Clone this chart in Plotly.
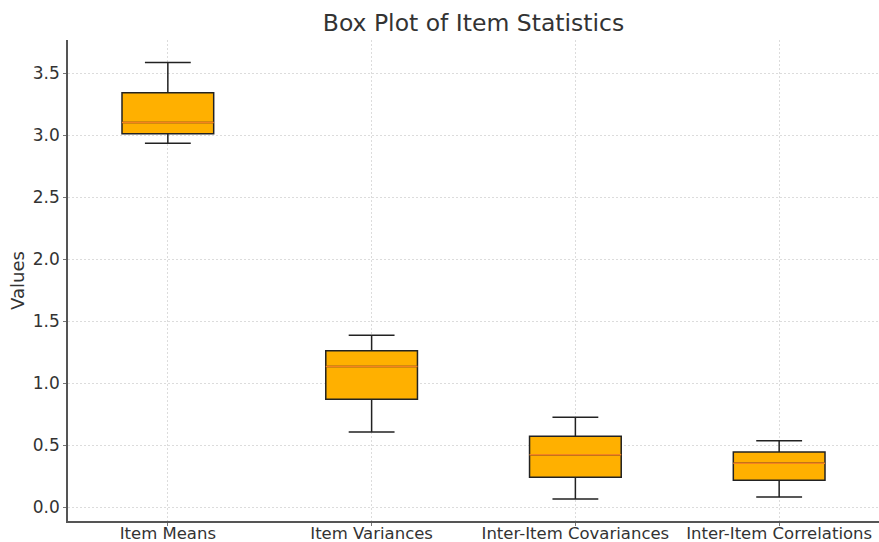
import plotly.graph_objects as go

categories = ["Item Means", "Item Variances", "Inter-Item Covariances", "Inter-Item Correlations"]
lower_whisker = [2.938, 0.607, 0.067, 0.083]
q1 = [3.013, 0.873, 0.242, 0.218]
median = [3.105, 1.137, 0.424, 0.355]
q3 = [3.344, 1.263, 0.573, 0.446]
upper_whisker = [3.589, 1.389, 0.726, 0.537]
y_ticks = [0.0, 0.5, 1.0, 1.5, 2.0, 2.5, 3.0, 3.5]

xpos = list(range(len(categories)))
font = "DejaVu Sans, Liberation Sans, sans-serif"
text_col = "#333333"

fig = go.Figure()
fig.add_trace(go.Box(
    x=xpos, q1=q1, median=median, q3=q3,
    lowerfence=lower_whisker, upperfence=upper_whisker,
    width=0.45, whiskerwidth=0.5,
    fillcolor="#FFB000", line=dict(color="#222222", width=1.5),
    boxpoints=False, showlegend=False, hoverinfo="skip",
))
# median lines in orange, drawn as degenerate boxes at the median
fig.add_trace(go.Box(
    x=xpos, q1=median, median=median, q3=median,
    lowerfence=median, upperfence=median,
    width=0.45, whiskerwidth=0,
    fillcolor="rgba(0,0,0,0)", line=dict(color="#F5821F", width=1.5),
    boxpoints=False, showlegend=False, hoverinfo="skip",
))

fig.update_layout(
    width=879, height=542,
    margin=dict(l=68, r=0, t=40, b=21, autoexpand=False),
    paper_bgcolor="white", plot_bgcolor="white",
    boxmode="overlay",
    title=dict(text="Box Plot of Item Statistics", x=0.5, xref="paper", xanchor="center",
               y=0.973, yref="container", yanchor="top",
               font=dict(family=font, size=23.5, color=text_col)),
    font=dict(family=font, size=17, color=text_col),
)
fig.update_xaxes(
    range=[-0.49, 3.49], tickmode="array", tickvals=xpos, ticktext=categories,
    showline=True, linecolor="#555555", linewidth=1.5,
    ticks="outside", ticklen=3, tickcolor="#777777", ticklabelstandoff=-7,
    showgrid=True, gridcolor="#dcdcdc", griddash="2px,2px", gridwidth=1,
    zeroline=False, tickfont=dict(size=16.5, color=text_col), automargin=False,
)
fig.update_yaxes(
    range=[-0.11, 3.77], tickmode="array", tickvals=y_ticks,
    ticktext=[f"{v:.1f}" for v in y_ticks],
    showline=True, linecolor="#555555", linewidth=1.5,
    ticks="outside", ticklen=3, tickcolor="#777777",
    showgrid=True, gridcolor="#dcdcdc", griddash="2px,2px", gridwidth=1,
    zeroline=False, tickfont=dict(size=17, color=text_col), automargin=False,
    title=dict(text="Values", font=dict(size=18, color=text_col), standoff=4),
)

fig.write_html(
    "out.html",
    config={"displayModeBar": False},
    post_script="document.body.style.margin='0';document.body.style.overflow='hidden';",
)
